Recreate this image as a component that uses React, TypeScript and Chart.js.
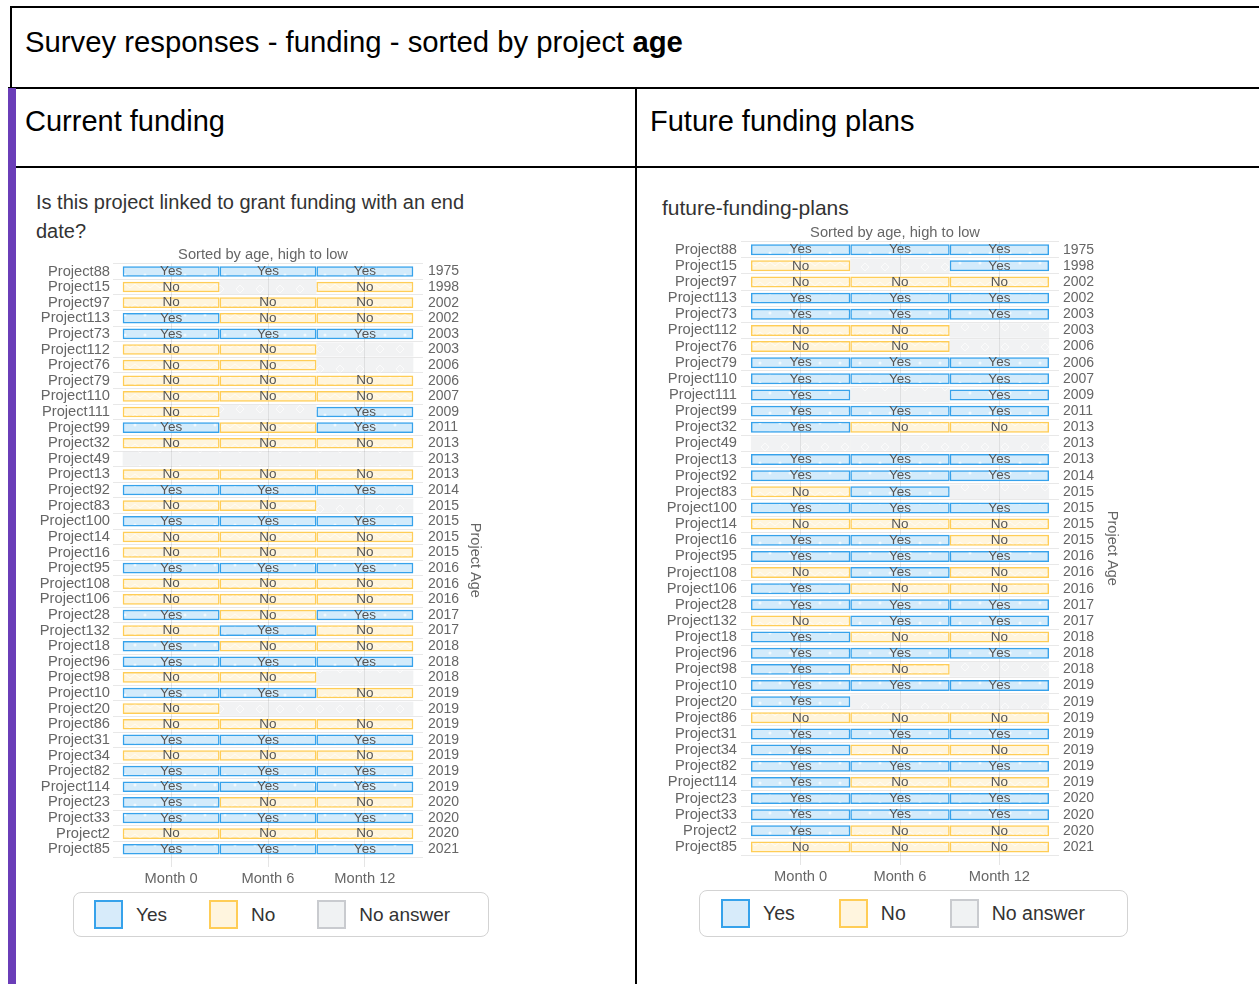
import React, { useEffect, useRef } from 'react';
import { Chart, registerables } from 'chart.js';

Chart.register(...registerables);

const FONT = '"Liberation Sans", Arial, Helvetica, sans-serif';

const projects = [
  'Project88', 'Project15', 'Project97', 'Project113', 'Project73', 'Project112', 'Project76', 'Project79',
  'Project110', 'Project111', 'Project99', 'Project32', 'Project49', 'Project13', 'Project92', 'Project83',
  'Project100', 'Project14', 'Project16', 'Project95', 'Project108', 'Project106', 'Project28', 'Project132',
  'Project18', 'Project96', 'Project98', 'Project10', 'Project20', 'Project86', 'Project31', 'Project34',
  'Project82', 'Project114', 'Project23', 'Project33', 'Project2', 'Project85',
];

const projectAges = [
  '1975', '1998', '2002', '2002', '2003', '2003', '2006', '2006',
  '2007', '2009', '2011', '2013', '2013', '2013', '2014', '2015',
  '2015', '2015', '2015', '2016', '2016', '2016', '2017', '2017',
  '2018', '2018', '2018', '2019', '2019', '2019', '2019', '2019',
  '2019', '2019', '2020', '2020', '2020', '2021',
];

const months = ['Month 0', 'Month 6', 'Month 12'];
const legendLabels = ['Yes', 'No', 'No answer'];

const Y = 'Yes';
const N = 'No';
const _ = '';

// Current funding: "Is this project linked to grant funding with an end date?"
const currentMonth0 = [Y, N, N, Y, Y, N, N, N, N, N, Y, N, _, N, Y, N, Y, N, N, Y, N, N, Y, N, Y, Y, N, Y, N, N, Y, N, Y, Y, Y, Y, N, Y];
const currentMonth6 = [Y, _, N, N, Y, N, N, N, N, _, N, N, _, N, Y, N, Y, N, N, Y, N, N, N, Y, N, Y, N, Y, _, N, Y, N, Y, Y, N, Y, N, Y];
const currentMonth12 = [Y, N, N, N, Y, _, _, N, N, Y, Y, N, _, N, Y, _, Y, N, N, Y, N, N, Y, N, N, Y, _, N, _, N, Y, N, Y, Y, N, Y, N, Y];

// Future funding plans
const futureMonth0 = [Y, N, N, Y, Y, N, N, Y, Y, Y, Y, Y, _, Y, Y, N, Y, N, Y, Y, N, Y, Y, N, Y, Y, Y, Y, Y, N, Y, Y, Y, Y, Y, Y, Y, N];
const futureMonth6 = [Y, _, N, Y, Y, N, N, Y, Y, _, Y, N, _, Y, Y, Y, Y, N, Y, Y, Y, N, Y, Y, N, Y, N, Y, _, N, Y, N, Y, N, Y, Y, N, N];
const futureMonth12 = [Y, Y, N, Y, Y, _, _, Y, Y, Y, Y, N, _, Y, Y, _, Y, N, N, Y, N, N, Y, Y, N, Y, _, Y, _, N, Y, N, Y, N, Y, Y, N, N];

const COLORS = {
  yesFill: 'rgba(54,162,235,0.22)',
  yesBorder: 'rgb(54,162,235)',
  noFill: 'rgba(255,205,86,0.2)',
  noBorder: 'rgb(255,205,86)',
  naFill: 'rgba(201,203,207,0.25)',
  naBorder: 'rgb(201,203,207)',
};

function makePattern(bg: string, kind: 'dot' | 'zigzag' | 'diamond'): CanvasPattern | string {
  const c = document.createElement('canvas');
  c.width = 20;
  c.height = 20;
  const g = c.getContext('2d');
  if (!g) return bg;
  g.fillStyle = bg;
  g.fillRect(0, 0, 20, 20);
  g.fillStyle = 'rgba(255,255,255,0.7)';
  g.strokeStyle = 'rgba(255,255,255,0.7)';
  g.lineWidth = 1;
  if (kind === 'dot') {
    g.beginPath();
    g.arc(5, 5, 1.5, 0, Math.PI * 2);
    g.fill();
    g.beginPath();
    g.arc(15, 15, 1.5, 0, Math.PI * 2);
    g.fill();
  } else if (kind === 'zigzag') {
    g.beginPath();
    g.moveTo(0, 8); g.lineTo(5, 4); g.lineTo(10, 8); g.lineTo(15, 4); g.lineTo(20, 8);
    g.moveTo(0, 18); g.lineTo(5, 14); g.lineTo(10, 18); g.lineTo(15, 14); g.lineTo(20, 18);
    g.stroke();
  } else {
    g.beginPath();
    g.moveTo(10, 5); g.lineTo(14, 9); g.lineTo(10, 13); g.lineTo(6, 9); g.closePath();
    g.stroke();
  }
  const p = g.createPattern(c, 'repeat');
  return p || bg;
}

interface ChartProps {
  cols: string[][];
  left: number;
  top: number;
  width: number;
  height: number;
  yWidth: number;
  y2Width: number;
  yPad: number;
  y2Pad: number;
  titlePad: number;
}

function FundingChart(props: ChartProps) {
  const ref = useRef<HTMLCanvasElement>(null);
  useEffect(() => {
    const canvas = ref.current;
    if (!canvas) return;
    const pats = {
      Yes: makePattern(COLORS.yesFill, 'dot'),
      No: makePattern(COLORS.noFill, 'zigzag'),
      none: makePattern(COLORS.naFill, 'diamond'),
    };
    const cols = props.cols;
    const datasets: any[] = [];
    cols.forEach((col, m) => {
      datasets.push({
        label: 'No answer ' + months[m],
        data: col.map((a) => (a === '' ? [m, m + 1] : null)),
        backgroundColor: pats.none,
        borderWidth: 0,
        barPercentage: 0.9,
        categoryPercentage: 1,
        grouped: false,
      });
    });
    const answeredStart = datasets.length;
    cols.forEach((col, m) => {
      datasets.push({
        label: months[m],
        data: col.map((a) => (a !== '' ? [m, m + 1] : null)),
        backgroundColor: col.map((a) => (a === 'Yes' ? pats.Yes : pats.No)),
        borderColor: col.map((a) => (a === 'Yes' ? COLORS.yesBorder : COLORS.noBorder)),
        borderWidth: 1.5,
        borderSkipped: false,
        barPercentage: 0.68,
        categoryPercentage: 1,
        grouped: false,
      });
    });

    const cellLabels = {
      id: 'cellLabels',
      afterDatasetsDraw(chart: any) {
        const ctx = chart.ctx;
        ctx.save();
        ctx.font = '13.5px ' + FONT;
        ctx.fillStyle = '#555';
        ctx.textAlign = 'center';
        ctx.textBaseline = 'middle';
        cols.forEach((col, m) => {
          const meta = chart.getDatasetMeta(answeredStart + m);
          meta.data.forEach((el: any, j: number) => {
            const a = col[j];
            if (!a || !el) return;
            const { x, base, y } = el.getProps(['x', 'base', 'y'], true);
            ctx.fillText(a, (x + base) / 2, y);
          });
        });
        ctx.restore();
      },
    };

    const labelFont = { size: 14.7, family: FONT };
    const ageFont = { size: 14, family: FONT };
    const chart = new Chart(canvas, {
      type: 'bar',
      data: { labels: projects, datasets },
      options: {
        indexAxis: 'y',
        animation: false,
        responsive: false,
        maintainAspectRatio: false,
        events: [],
        layout: { padding: 0 },
        plugins: {
          legend: { display: false },
          tooltip: { enabled: false },
          title: {
            display: true,
            text: 'Sorted by age, high to low',
            color: '#666',
            font: { size: 14.7, family: FONT, weight: 'normal' },
            padding: { top: 6, bottom: 0 },
          },
        },
        scales: {
          x: {
            type: 'linear',
            min: -0.1,
            max: 3.1,
            bounds: 'data',
            afterBuildTicks: (s: any) => {
              s.ticks = months.map((_m, i) => ({ value: i + 0.5 }));
            },
            ticks: {
              callback: (_v: any, i: number) => months[i],
              color: '#666',
              font: labelFont,
              padding: 3,
              autoSkip: false,
              maxRotation: 0,
            },
            grid: { color: 'rgba(0,0,0,0.1)', tickLength: 10 },
            border: { display: false },
            afterFit: (s: any) => {
              s.height = 32;
            },
          },
          y: {
            type: 'category',
            offset: true,
            grid: { offset: true, drawTicks: false, color: 'rgba(0,0,0,0.09)' },
            border: { display: false },
            ticks: { autoSkip: false, padding: props.yPad, color: '#666', font: labelFont },
            afterFit: (s: any) => {
              s.width = props.yWidth;
            },
          },
          y2: {
            type: 'category',
            position: 'right',
            labels: projectAges,
            offset: true,
            grid: { display: false, drawTicks: false },
            border: { display: false },
            ticks: { autoSkip: false, padding: props.y2Pad, color: '#666', font: ageFont },
            title: {
              display: true,
              text: 'Project Age',
              color: '#666',
              font: { size: 14.5, family: FONT },
              padding: { top: props.titlePad, bottom: 0 },
            },
            afterFit: (s: any) => {
              s.width = props.y2Width;
            },
          },
        },
      } as any,
      plugins: [cellLabels],
    });
    return () => chart.destroy();
  }, []);
  return (
    <canvas
      ref={ref}
      width={props.width}
      height={props.height}
      style={{ position: 'absolute', left: props.left, top: props.top, width: props.width, height: props.height }}
    />
  );
}

const legendStyles = [
  { fill: '#d7ebfa', border: '#36a2eb' },
  { fill: '#fff5de', border: '#ffcd56' },
  { fill: '#f0f2f3', border: '#c9cbcf' },
];

function Legend(p: { left: number; top: number; width: number; height: number; padLeft: number; gap: number; size: number }) {
  return (
    <div
      style={{
        position: 'absolute',
        left: p.left,
        top: p.top,
        width: p.width,
        height: p.height,
        boxSizing: 'border-box',
        border: '1px solid #d3d3d3',
        borderRadius: 8,
        display: 'flex',
        alignItems: 'center',
        paddingLeft: p.padLeft,
        whiteSpace: 'nowrap',
      }}
    >
      {legendLabels.map((l, i) => (
        <div key={l} style={{ display: 'flex', alignItems: 'center', marginRight: p.gap, flexShrink: 0 }}>
          <div
            style={{
              width: 29,
              height: 29,
              boxSizing: 'border-box',
              border: '2px solid ' + legendStyles[i].border,
              background: legendStyles[i].fill,
              flexShrink: 0,
            }}
          />
          <span style={{ marginLeft: 13, fontSize: p.size, color: '#333', lineHeight: 1, whiteSpace: 'nowrap' }}>{l}</span>
        </div>
      ))}
    </div>
  );
}

const line = (left: number, top: number, width: number, height: number, color = '#000') => (
  <div style={{ position: 'absolute', left, top, width, height, background: color }} />
);

export default function App() {
  useEffect(() => {
    document.body.style.margin = '0';
  }, []);
  return (
    <div
      style={{
        position: 'fixed',
        left: 0,
        top: 0,
        width: 1259,
        height: 984,
        overflow: 'hidden',
        background: '#fff',
        fontFamily: FONT,
        color: '#000',
      }}
    >
      {line(10, 6, 1249, 2)}
      {line(10, 6, 2, 82)}
      {line(8, 87, 1251, 2)}
      {line(8, 166, 1251, 2)}
      {line(635, 88, 2, 896)}
      {line(8, 88, 8, 896, '#6a3db8')}

      <div style={{ position: 'absolute', left: 25, top: 27, fontSize: 29.3, lineHeight: 1, whiteSpace: 'nowrap' }}>
        Survey responses - funding - sorted by project <b>age</b>
      </div>
      <div style={{ position: 'absolute', left: 25, top: 107, fontSize: 29, lineHeight: 1, whiteSpace: 'nowrap' }}>
        Current funding
      </div>
      <div style={{ position: 'absolute', left: 650, top: 107, fontSize: 29, lineHeight: 1, whiteSpace: 'nowrap' }}>
        Future funding plans
      </div>

      <div style={{ position: 'absolute', left: 36, top: 188, width: 470, fontSize: 20, lineHeight: '29px', color: '#333' }}>
        Is this project linked to grant funding with an end date?
      </div>
      <div style={{ position: 'absolute', left: 662, top: 197, fontSize: 21, lineHeight: 1, color: '#333', whiteSpace: 'nowrap' }}>
        future-funding-plans
      </div>

      <FundingChart
        cols={[currentMonth0, currentMonth6, currentMonth12]}
        left={30}
        top={240}
        width={466}
        height={649}
        yWidth={83}
        y2Width={73}
        yPad={3}
        y2Pad={5}
        titlePad={12}
      />
      <FundingChart
        cols={[futureMonth0, futureMonth6, futureMonth12]}
        left={655}
        top={218}
        width={480}
        height={669}
        yWidth={86}
        y2Width={76}
        yPad={4}
        y2Pad={4}
        titlePad={14}
      />

      <Legend left={73} top={892} width={416} height={45} padLeft={20} gap={42} size={19} />
      <Legend left={699} top={890} width={429} height={47} padLeft={21} gap={44} size={19.5} />
    </div>
  );
}
